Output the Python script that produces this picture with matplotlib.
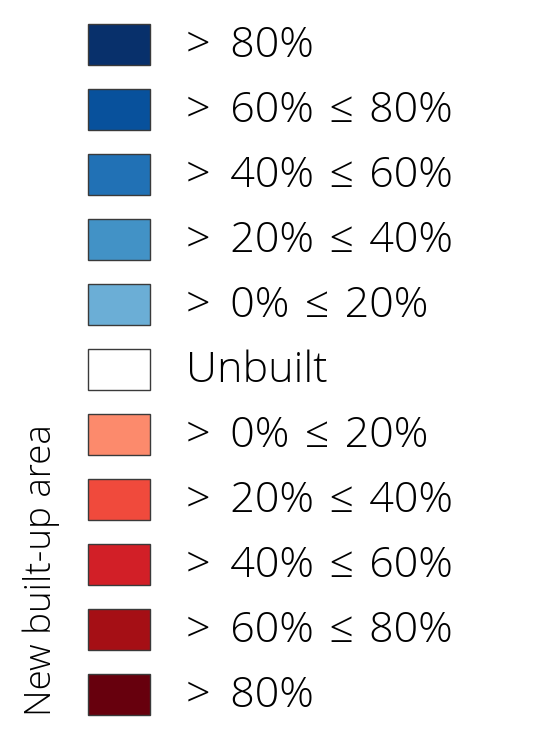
import matplotlib.pyplot as plt
import numpy as np

# Classes de legenda (de cima para baixo)
labels = ['> 80%', '> 60% ≤ 80%', '> 40% ≤ 60%', '> 20% ≤ 40%', '> 0% ≤ 20%',
          'Unbuilt',
          '> 0% ≤ 20%', '> 20% ≤ 40%', '> 40% ≤ 60%', '> 60% ≤ 80%', '> 80%']
colors = ['#08306b', '#08519c', '#2171b5', '#4292c6', '#6baed6',
          '#ffffff',
          '#fc8a6c', '#f04a3c', '#d21f27', '#a50f15', '#67000d']
side_title = 'New built-up area'

plt.rcParams['font.family'] = ['Open Sans', 'DejaVu Sans']

fig = plt.figure(figsize=(5.36, 7.47), dpi=100)
ax = fig.add_axes([0, 0, 1, 1])
ax.set_xlim(0, 536)
ax.set_ylim(747, 0)
ax.axis('off')

rows = np.arange(len(labels))
y = 44.5 + rows * 65
ax.barh(y, width=62, left=88, height=41, color=colors,
        edgecolor='#3a3a3a', linewidth=1.0)

for yi, lab in zip(y, labels):
    # espaçamento um pouco maior como no original
    txt = lab.replace('> ', '> \u2009').replace(' ≤ ', ' \u200a≤\u200a ')
    ax.text(186, yi + 1, txt, fontsize=31, fontweight='light',
            va='center', ha='left', color='black')

ax.text(41, 716, side_title, fontsize=26.5, fontweight='light', rotation=90,
        va='bottom', ha='center', color='black')

fig.savefig('out.png', dpi=100)
